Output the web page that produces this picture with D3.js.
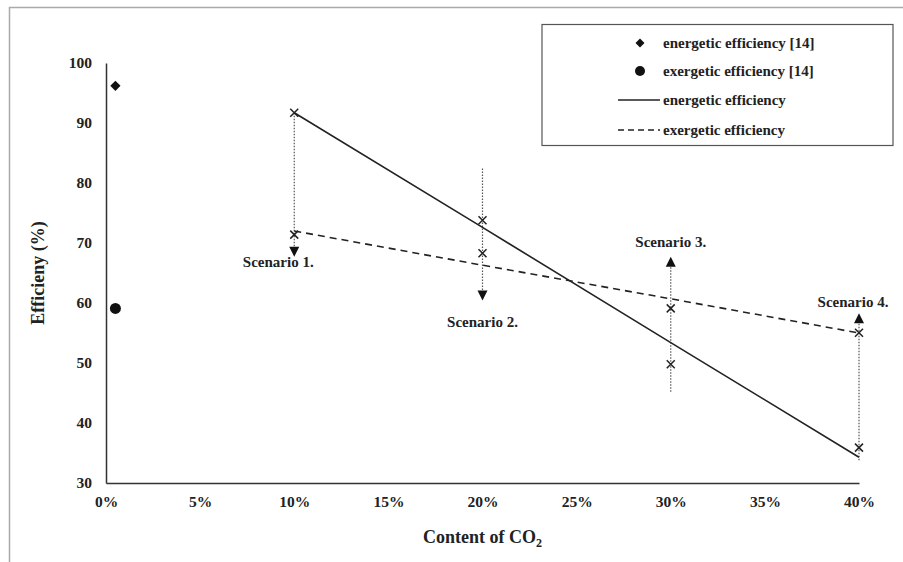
<!DOCTYPE html>
<html><head><meta charset="utf-8">
<script src="https://cdn.jsdelivr.net/npm/d3@7"></script>
<style>
html,body{margin:0;padding:0;background:#fff;}
svg text{font-family:"Liberation Serif","Times New Roman",serif;font-weight:bold;fill:#222;}
</style></head>
<body><svg id="c" width="903" height="562"></svg>
<script>
// ---- data ----
const xTicks = [0,5,10,15,20,25,30,35,40];
const yTicks = [30,40,50,60,70,80,90,100];
const co2 = [10,20,30,40];
const energetic = [91.7,72.6,53.4,34.3];
const exergetic = [72.0,66.3,60.7,55.0];
const refX = [0.5];
const refEnergetic = [96.2];
const refExergetic = [59.1];
const scenarioNames = ["Scenario 1.","Scenario 2.","Scenario 3.","Scenario 4."];
const scenarioX = [10,20,30,40];
const scenarioEnergetic = [91.7,73.8,49.8,35.9];
const scenarioExergetic = [71.4,68.3,59.1,55.05];
const arrowFrom = [91.7,82.4,45.2,33.8];
const arrowTo = [67.7,60.4,67.7,58.3];
const legendLabels = ["energetic efficiency [14]","exergetic efficiency [14]","energetic efficiency","exergetic efficiency"];

const svg = d3.select("#c");
const W=903,H=562;
// outer frame
svg.append("path").attr("d",`M9.5,${H} V7.5 H${W}`).attr("fill","none").attr("stroke","#aaa").attr("stroke-width",1.5);

const x = d3.scaleLinear().domain([0,40]).range([106,859]);
const y = d3.scaleLinear().domain([30,100]).range([483,63]);

// axes
const xAxis = d3.axisBottom(x).tickValues(xTicks).tickFormat(d=>d+"%").tickSize(0).tickPadding(13);
const yAxis = d3.axisLeft(y).tickValues(yTicks).tickSize(0).tickPadding(14);
const gx = svg.append("g").attr("transform",`translate(0,${y(30)})`).call(xAxis);
const gy = svg.append("g").attr("transform",`translate(${x(0)},0)`).call(yAxis);
[gx,gy].forEach(g=>{
  g.select(".domain").attr("stroke","#333").attr("stroke-width",1.5);
  g.selectAll("text").attr("font-family","Liberation Serif").attr("font-weight","bold").attr("font-size",15.5).attr("fill","#222");
});

// axis titles
svg.append("text").attr("x",(x(0)+x(40))/2).attr("y",543).attr("text-anchor","middle").attr("font-size",18)
  .call(t=>{t.append("tspan").text("Content of CO");t.append("tspan").attr("font-size",12).attr("dy",4).text("2");});
svg.append("text").attr("transform",`translate(44,${(y(30)+y(100))/2}) rotate(-90)`).attr("text-anchor","middle").attr("font-size",18).text("Efficieny (%)");

// dotted scenario lines + arrows
const g = svg.append("g");
scenarioX.forEach((sx,i)=>{
  const px=x(sx), y1=y(arrowFrom[i]), y2=y(arrowTo[i]);
  const dir = y2>y1?1:-1;
  g.append("line").attr("x1",px).attr("x2",px).attr("y1",y1).attr("y2",y2-dir*9)
    .attr("stroke","#555").attr("stroke-width",1.2).attr("stroke-dasharray","1.5,1.5");
  g.append("path").attr("d",`M${px-5},${y2-dir*10} L${px+5},${y2-dir*10} L${px},${y2} Z`).attr("fill","#111");
});

// lines
const line = d3.line().x((d,i)=>x(co2[i])).y(d=>y(d));
svg.append("path").datum(energetic).attr("d",line).attr("fill","none").attr("stroke","#222").attr("stroke-width",1.6);
svg.append("path").datum(exergetic).attr("d",line).attr("fill","none").attr("stroke","#222").attr("stroke-width",1.6).attr("stroke-dasharray","7,5");

// x markers
function cross(px,py){
  const s=4;
  svg.append("path").attr("d",`M${px-s},${py-s}L${px+s},${py+s}M${px-s},${py+s}L${px+s},${py-s}`).attr("stroke","#222").attr("stroke-width",1.5);
}
scenarioX.forEach((sx,i)=>{cross(x(sx),y(scenarioEnergetic[i]));cross(x(sx),y(scenarioExergetic[i]));});

// reference points
const diamond = d3.symbol().type(d3.symbolSquare).size(52);
refX.forEach((rx,i)=>{
  svg.append("path").attr("d",diamond()).attr("transform",`translate(${x(rx)},${y(refEnergetic[i])}) rotate(45)`).attr("fill","#111");
  svg.append("circle").attr("cx",x(rx)).attr("cy",y(refExergetic[i])).attr("r",5.5).attr("fill","#111");
});

// scenario labels
const labOff = [{dx:-16,dy:10},{dx:0,dy:26},{dx:0,dy:-10},{dx:-6,dy:-6}];
scenarioNames.forEach((n,i)=>{
  svg.append("text").attr("x",x(scenarioX[i])+labOff[i].dx).attr("y",y(arrowTo[i])+labOff[i].dy)
    .attr("text-anchor","middle").attr("font-size",15).text(n);
});

// legend
const lg = svg.append("g");
lg.append("rect").attr("x",542).attr("y",24.5).attr("width",351).attr("height",121).attr("fill","#fff").attr("stroke","#555").attr("stroke-width",1.2);
const ly = [43,71,100,130];
lg.append("path").attr("d",d3.symbol().type(d3.symbolSquare).size(40)()).attr("transform",`translate(640,${ly[0]}) rotate(45)`).attr("fill","#111");
lg.append("circle").attr("cx",640).attr("cy",ly[1]).attr("r",5).attr("fill","#111");
lg.append("line").attr("x1",618).attr("x2",660).attr("y1",ly[2]).attr("y2",ly[2]).attr("stroke","#222").attr("stroke-width",1.5);
lg.append("line").attr("x1",618).attr("x2",660).attr("y1",ly[3]).attr("y2",ly[3]).attr("stroke","#222").attr("stroke-width",1.5).attr("stroke-dasharray","6,4");
legendLabels.forEach((t,i)=>{
  lg.append("text").attr("x",663).attr("y",ly[i]+5).attr("font-size",15).text(t);
});
</script></body></html>
